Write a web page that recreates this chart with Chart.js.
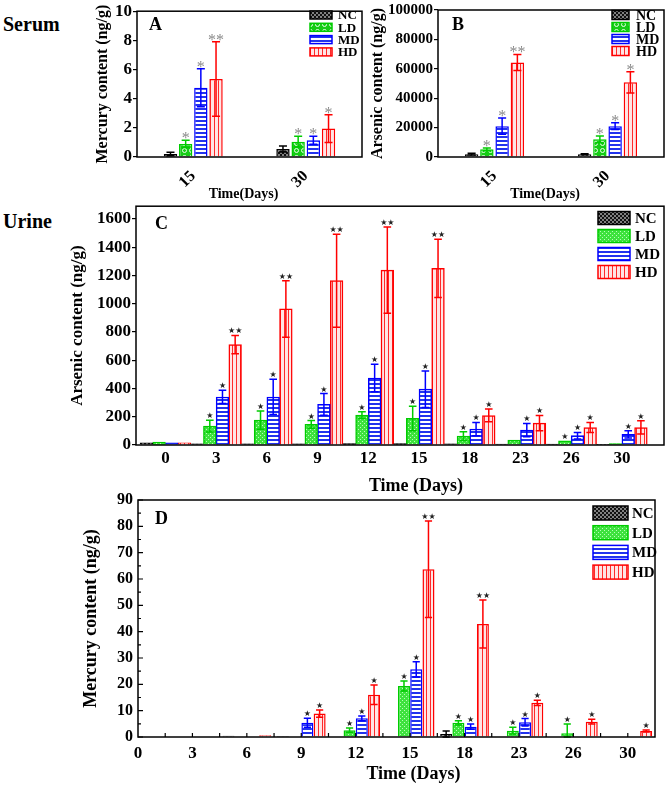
<!DOCTYPE html>
<html>
<head>
<meta charset="utf-8">
<script src="https://cdn.jsdelivr.net/npm/chart.js@4.4.0/dist/chart.umd.min.js"></script>
<style>
  body { margin: 0; background: #fff; }
  #wrap { position: relative; width: 666px; height: 785px; overflow: hidden; font-family: "Liberation Serif", "Times New Roman", serif; font-weight: bold; }
  canvas { position: absolute; }
  .lbl { position: absolute; font-weight: bold; line-height: 1; color: #000; }
</style>
</head>
<body>
<div id="wrap">
  <div class="lbl" style="left:3px;top:14px;font-size:20px">Serum</div>
  <div class="lbl" style="left:3px;top:211px;font-size:20px">Urine</div>
  <canvas id="chartA" width="275" height="202" style="left:90px;top:0px"></canvas>
  <canvas id="chartB" width="298" height="202" style="left:368px;top:0px"></canvas>
  <canvas id="chartC" width="606" height="302" style="left:60px;top:195px"></canvas>
  <canvas id="chartD" width="596" height="305" style="left:70px;top:480px"></canvas>
  <div class="lbl" style="left:149px;top:15px;font-size:18px">A</div>
  <div class="lbl" style="left:452px;top:15px;font-size:18px">B</div>
  <div class="lbl" style="left:155px;top:214px;font-size:18px">C</div>
  <div class="lbl" style="left:155px;top:509px;font-size:18px">D</div>
</div>
<script>
// serum data (panels A and B)
var serumDays = ["15", "30"];
var serumHgNC = [0.2, 0.55];
var serumHgLD = [0.9, 1.05];
var serumHgMD = [4.75, 1.15];
var serumHgHD = [5.35, 1.95];
var serumHgErrNC = [0.12, 0.2];
var serumHgErrLD = [0.25, 0.37];
var serumHgErrMD = [1.3, 0.28];
var serumHgErrHD = [2.55, 0.95];

var serumAsNC = [1900, 1900];
var serumAsLD = [5200, 12000];
var serumAsMD = [21000, 21000];
var serumAsHD = [64300, 50800];
var serumAsErrNC = [600, 300];
var serumAsErrLD = [1000, 2300];
var serumAsErrMD = [5500, 2300];
var serumAsErrHD = [5500, 7200];

var serumStarsNC = ["", ""];
var serumStarsLD = ["*", "*"];
var serumStarsMD = ["*", "*"];
var serumStarsHD = ["**", "*"];

// urine data (panels C and D)
var urineDays = ["0", "3", "6", "9", "12", "15", "18", "23", "26", "30"];
var urineAsNC = [15, 8, 8, 8, 10, 10, 8, 6, 6, 5];
var urineAsLD = [20, 134, 176, 146, 211, 188, 63, 35, 30, 10];
var urineAsMD = [15, 340, 340, 287, 474, 395, 113, 106, 66, 75];
var urineAsHD = [15, 710, 963, 1163, 1238, 1250, 209, 155, 124, 124];
var urineAsErrNC = [0, 0, 0, 0, 0, 0, 0, 0, 0, 0];
var urineAsErrLD = [0, 42, 64, 27, 24, 87, 31, 0, 0, 0];
var urineAsErrMD = [0, 47, 125, 77, 97, 129, 47, 47, 23, 26];
var urineAsErrHD = [0, 65, 200, 329, 305, 206, 45, 54, 36, 47];
var urineAsStarsNC = ["", "", "", "", "", "", "", "", "", ""];
var urineAsStarsLD = ["", "*", "*", "*", "*", "*", "*", "", "*", ""];
var urineAsStarsMD = ["", "*", "*", "*", "*", "*", "*", "*", "*", "*"];
var urineAsStarsHD = ["", "**", "**", "**", "**", "**", "*", "*", "*", "*"];

var urineHgNC = [null, null, 0.5, 0.4, null, null, 1.1, null, null, null];
var urineHgLD = [null, null, null, null, 2.6, 19.4, 5.4, 2.4, 1.4, null];
var urineHgMD = [null, null, null, 5.4, 7.1, 25.7, 3.9, 5.6, null, null];
var urineHgHD = [null, null, 0.7, 8.9, 16, 63.7, 42.9, 13, 5.8, 2.3];
var urineHgErrNC = [0, 0, 0, 0, 0, 0, 1.2, 0, 0, 0];
var urineHgErrLD = [0, 0, 0, 0, 0.8, 1.9, 0.8, 1.3, 3.5, 0];
var urineHgErrMD = [0, 0, 0, 1.7, 0.9, 2.9, 1.0, 1.4, 0, 0];
var urineHgErrHD = [0, 0, 0, 1.4, 3.7, 18.3, 9.1, 1.0, 0.9, 0.4];
var urineHgStarsNC = ["", "", "", "", "", "", "", "", "", ""];
var urineHgStarsLD = ["", "", "", "", "*", "*", "*", "*", "*", ""];
var urineHgStarsMD = ["", "", "", "*", "*", "*", "*", "*", "", ""];
var urineHgStarsHD = ["", "", "", "*", "*", "**", "**", "*", "*", "*"];

var groups = ["NC", "LD", "MD", "HD"];
var lineColors = ["#000000", "#00cc00", "#0000ff", "#ff0000"];

Chart.defaults.font.family = '"Liberation Serif", "Times New Roman", serif';
Chart.defaults.font.weight = "bold";
Chart.defaults.color = "#000";
Chart.defaults.animation = false;

// small tiles for the hatched fills
function tile(w, h, draw) {
  var c = document.createElement("canvas");
  c.width = w; c.height = h;
  var g = c.getContext("2d");
  draw(g);
  return g.createPattern(c, "repeat");
}
var ncFill = tile(4, 4, function (g) {
  g.fillStyle = "#808080"; g.fillRect(0, 0, 4, 4);
  g.fillStyle = "#111"; g.fillRect(0, 0, 2, 2); g.fillRect(2, 2, 2, 2);
});
var ldRing = tile(7, 7, function (g) {
  g.fillStyle = "#16cc16"; g.fillRect(0, 0, 7, 7);
  g.strokeStyle = "#e8ffe8"; g.lineWidth = 1;
  g.beginPath(); g.arc(3.5, 3.5, 2, 0, Math.PI * 2); g.stroke();
});
var ldDot = tile(4, 4, function (g) {
  g.fillStyle = "#3ee23e"; g.fillRect(0, 0, 4, 4);
  g.fillStyle = "#b6ffb6"; g.fillRect(0, 0, 1, 1); g.fillRect(2, 2, 1, 1);
});
var mdFill = tile(4, 4, function (g) {
  g.fillStyle = "#ffffff"; g.fillRect(0, 0, 4, 4);
  g.fillStyle = "#2233ee"; g.fillRect(0, 0, 4, 2);
});
var hdFill = tile(4, 4, function (g) {
  g.fillStyle = "#ffe4e4"; g.fillRect(0, 0, 4, 4);
  g.fillStyle = "#ff2a2a"; g.fillRect(0, 0, 1, 4);
});

function makeSets(vals, errs, stars, fills, useX) {
  return vals.map(function (v, k) {
    return {
      label: groups[k],
      data: useX ? v.map(function (y, i) { return { x: i, y: y }; }) : v,
      errors: errs[k],
      stars: stars[k],
      backgroundColor: fills[k],
      borderColor: lineColors[k],
      borderWidth: 1.5
    };
  });
}

// error bars + significance marks
var errorBars = {
  id: "errorBars",
  afterDatasetsDraw: function (chart, args, o) {
    var ctx = chart.ctx, ys = chart.scales.y;
    chart.data.datasets.forEach(function (ds, k) {
      var meta = chart.getDatasetMeta(k);
      meta.data.forEach(function (bar, i) {
        var raw = ds.data[i];
        var v = (raw !== null && typeof raw === "object") ? raw.y : raw;
        if (v === null || v === undefined) return;
        var e = ds.errors[i] || 0;
        var top = ys.getPixelForValue(v + e);
        if (e > 0) {
          var bot = ys.getPixelForValue(Math.max(v - e, 0));
          var half = bar.width * 0.3;
          ctx.save();
          ctx.strokeStyle = ds.borderColor;
          ctx.lineWidth = 1.5;
          ctx.beginPath();
          ctx.moveTo(bar.x, top); ctx.lineTo(bar.x, bot);
          ctx.moveTo(bar.x - half, top); ctx.lineTo(bar.x + half, top);
          ctx.moveTo(bar.x - half, bot); ctx.lineTo(bar.x + half, bot);
          ctx.stroke();
          ctx.restore();
        }
        if (ds.stars[i]) {
          ctx.save();
          ctx.fillStyle = o.color;
          ctx.font = o.font;
          ctx.textAlign = "center";
          ctx.textBaseline = "alphabetic";
          ctx.fillText(ds.stars[i].replace(/\*/g, o.ch), bar.x, top + o.dy);
          ctx.restore();
        }
      });
    });
  }
};

var frame = {
  id: "frame",
  afterDatasetsDraw: function (chart) {
    var a = chart.chartArea, ctx = chart.ctx;
    ctx.save();
    ctx.strokeStyle = "#000";
    ctx.lineWidth = 1.5;
    ctx.strokeRect(a.left, a.top, a.right - a.left, a.bottom - a.top);
    ctx.restore();
  }
};

var boxLegend = {
  id: "boxLegend",
  afterDraw: function (chart, args, o) {
    var ctx = chart.ctx;
    chart.data.datasets.forEach(function (ds, k) {
      var y = o.y + k * o.step;
      ctx.save();
      ctx.fillStyle = ds.backgroundColor;
      ctx.fillRect(o.x, y - o.h / 2, o.w, o.h);
      ctx.strokeStyle = ds.borderColor;
      ctx.lineWidth = 1.5;
      ctx.strokeRect(o.x, y - o.h / 2, o.w, o.h);
      ctx.fillStyle = "#000";
      ctx.font = o.font;
      ctx.textAlign = "left";
      ctx.textBaseline = "middle";
      ctx.fillText(ds.label, o.x + o.w + o.gap, y + 1);
      ctx.restore();
    });
  }
};

// x axis title, drawn a bit off-centre like the original
var xTitle = {
  id: "xTitle",
  afterDraw: function (chart, args, o) {
    var a = chart.chartArea, ctx = chart.ctx;
    ctx.save();
    ctx.fillStyle = "#000";
    ctx.font = o.font;
    ctx.textAlign = "center";
    ctx.textBaseline = "middle";
    ctx.fillText(o.text, (a.left + a.right) / 2 + o.dx, o.y);
    ctx.restore();
  }
};

// inward tick marks on panel D
var innerTicks = {
  id: "innerTicks",
  afterDatasetsDraw: function (chart) {
    var ctx = chart.ctx, a = chart.chartArea, xs = chart.scales.x, ys = chart.scales.y;
    ctx.save();
    ctx.strokeStyle = "#000";
    ctx.lineWidth = 1.2;
    ctx.beginPath();
    for (var v = 0; v <= ys.max; v += 5) {
      var py = ys.getPixelForValue(v);
      ctx.moveTo(a.left, py); ctx.lineTo(a.left + (v % 10 === 0 ? 5 : 3), py);
    }
    for (var u = 0.5; u < xs.max; u += 0.5) {
      var px = xs.getPixelForValue(u);
      ctx.moveTo(px, a.bottom); ctx.lineTo(px, a.bottom - 4);
    }
    ctx.stroke();
    ctx.restore();
  }
};

function yAxis(max, step, width, title, titleSize, titlePad, tickSize, ticksOut) {
  return {
    min: 0, max: max,
    afterFit: function (s) { s.width = width; },
    ticks: {
      stepSize: step, includeBounds: false, font: { size: tickSize, weight: "bold" }, padding: ticksOut ? 1 : 5,
      callback: function (v) { return String(v); }
    },
    grid: { drawOnChartArea: false, drawTicks: ticksOut, tickLength: 4, color: "#000", lineWidth: 1.2 },
    border: { display: false },
    title: { display: true, text: title, font: { size: titleSize, weight: "bold" }, padding: { top: titlePad, bottom: 0 } }
  };
}

// A: serum mercury
new Chart("chartA", {
  type: "bar",
  data: {
    labels: serumDays,
    datasets: makeSets([serumHgNC, serumHgLD, serumHgMD, serumHgHD],
      [serumHgErrNC, serumHgErrLD, serumHgErrMD, serumHgErrHD],
      [serumStarsNC, serumStarsLD, serumStarsMD, serumStarsHD],
      [ncFill, ldRing, mdFill, hdFill], false)
  },
  options: {
    responsive: false,
    layout: { padding: { top: 9, right: 3, left: 0, bottom: 0 } },
    datasets: { bar: { categoryPercentage: 0.54, barPercentage: 0.88 } },
    scales: {
      x: {
        afterFit: function (s) { s.height = 45; },
        ticks: { minRotation: 45, maxRotation: 45, font: { size: 16, weight: "bold" }, padding: 2 },
        grid: { display: false }, border: { display: false }
      },
      y: yAxis(10, 2, 47, "Mercury content (ng/g)", 16, 3, 17, true)
    },
    plugins: {
      legend: { display: false }, tooltip: { enabled: false },
      errorBars: { color: "#8a8a8a", font: "16px 'Liberation Serif'", ch: "*", dy: 3 },
      boxLegend: { x: 220, y: 15, step: 12.3, w: 22, h: 8, gap: 6, font: "bold 13px 'Liberation Serif'" },
      xTitle: { text: "Time(Days)", font: "bold 14px 'Liberation Serif'", dx: -6, y: 194 }
    }
  },
  plugins: [errorBars, frame, boxLegend, xTitle]
});

// B: serum arsenic
new Chart("chartB", {
  type: "bar",
  data: {
    labels: serumDays,
    datasets: makeSets([serumAsNC, serumAsLD, serumAsMD, serumAsHD],
      [serumAsErrNC, serumAsErrLD, serumAsErrMD, serumAsErrHD],
      [serumStarsNC, serumStarsLD, serumStarsMD, serumStarsHD],
      [ncFill, ldRing, mdFill, hdFill], false)
  },
  options: {
    responsive: false,
    layout: { padding: { top: 9, right: 2, left: 0, bottom: 0 } },
    datasets: { bar: { categoryPercentage: 0.54, barPercentage: 0.88 } },
    scales: {
      x: {
        afterFit: function (s) { s.height = 45; },
        ticks: { minRotation: 45, maxRotation: 45, font: { size: 16, weight: "bold" }, padding: 2 },
        grid: { display: false }, border: { display: false }
      },
      y: yAxis(100000, 20000, 70, "Arsenic content (ng/g)", 16, 0, 15, true)
    },
    plugins: {
      legend: { display: false }, tooltip: { enabled: false },
      errorBars: { color: "#8a8a8a", font: "16px 'Liberation Serif'", ch: "*", dy: 3 },
      boxLegend: { x: 244, y: 15, step: 12, w: 17, h: 9, gap: 7, font: "bold 14px 'Liberation Serif'" },
      xTitle: { text: "Time(Days)", font: "bold 14px 'Liberation Serif'", dx: -6, y: 194 }
    }
  },
  plugins: [errorBars, frame, boxLegend, xTitle]
});

// C: urine arsenic
new Chart("chartC", {
  type: "bar",
  data: {
    datasets: makeSets([urineAsNC, urineAsLD, urineAsMD, urineAsHD],
      [urineAsErrNC, urineAsErrLD, urineAsErrMD, urineAsErrHD],
      [urineAsStarsNC, urineAsStarsLD, urineAsStarsMD, urineAsStarsHD],
      [ncFill, ldDot, mdFill, hdFill], true)
  },
  options: {
    responsive: false,
    layout: { padding: { top: 10, right: 2, left: 0, bottom: 0 } },
    datasets: { bar: { categoryPercentage: 1.0, barPercentage: 1.0 } },
    scales: {
      x: {
        type: "linear", min: -0.58, max: 9.83, offset: false,
        afterBuildTicks: function (s) { s.ticks = urineDays.map(function (d, i) { return { value: i }; }); },
        afterFit: function (s) { s.height = 52; },
        ticks: { font: { size: 17, weight: "bold" }, padding: 3, callback: function (v) { return urineDays[v]; } },
        grid: { display: false, drawTicks: false, offset: false }, border: { display: false }
      },
      y: yAxis(1690, 200, 76, "Arsenic content (ng/g)", 17, 7, 17, true)
    },
    plugins: {
      legend: { display: false }, tooltip: { enabled: false },
      errorBars: { color: "#222", font: "8px 'DejaVu Sans'", ch: "\u2605", dy: -2 },
      boxLegend: { x: 538, y: 23, step: 18, w: 32, h: 13, gap: 5, font: "bold 15px 'Liberation Serif'" },
      xTitle: { text: "Time (Days)", font: "bold 18px 'Liberation Serif'", dx: 16, y: 291 }
    }
  },
  plugins: [errorBars, frame, boxLegend, xTitle]
});

// D: urine mercury
new Chart("chartD", {
  type: "bar",
  data: {
    datasets: makeSets([urineHgNC, urineHgLD, urineHgMD, urineHgHD],
      [urineHgErrNC, urineHgErrLD, urineHgErrMD, urineHgErrHD],
      [urineHgStarsNC, urineHgStarsLD, urineHgStarsMD, urineHgStarsHD],
      [ncFill, ldDot, mdFill, hdFill], true)
  },
  options: {
    responsive: false,
    layout: { padding: { top: 20, right: 11, left: 0, bottom: 0 } },
    datasets: { bar: { categoryPercentage: 0.9, barPercentage: 0.98 } },
    scales: {
      x: {
        type: "linear", min: 0, max: 9.5, offset: false,
        afterBuildTicks: function (s) { s.ticks = urineDays.map(function (d, i) { return { value: i }; }); },
        afterFit: function (s) { s.height = 48; },
        ticks: { font: { size: 17, weight: "bold" }, padding: 6, callback: function (v) { return urineDays[v]; } },
        grid: { display: false, drawTicks: false, offset: false }, border: { display: false }
      },
      y: yAxis(90, 10, 68, "Mercury content (ng/g)", 18, 11, 16, false)
    },
    plugins: {
      legend: { display: false }, tooltip: { enabled: false },
      errorBars: { color: "#222", font: "8px 'DejaVu Sans'", ch: "\u2605", dy: -2 },
      boxLegend: { x: 523, y: 33, step: 19.7, w: 35, h: 14, gap: 4, font: "bold 15px 'Liberation Serif'" },
      xTitle: { text: "Time (Days)", font: "bold 18px 'Liberation Serif'", dx: 17, y: 294 }
    }
  },
  plugins: [errorBars, frame, boxLegend, innerTicks, xTitle]
});
</script>
</body>
</html>
